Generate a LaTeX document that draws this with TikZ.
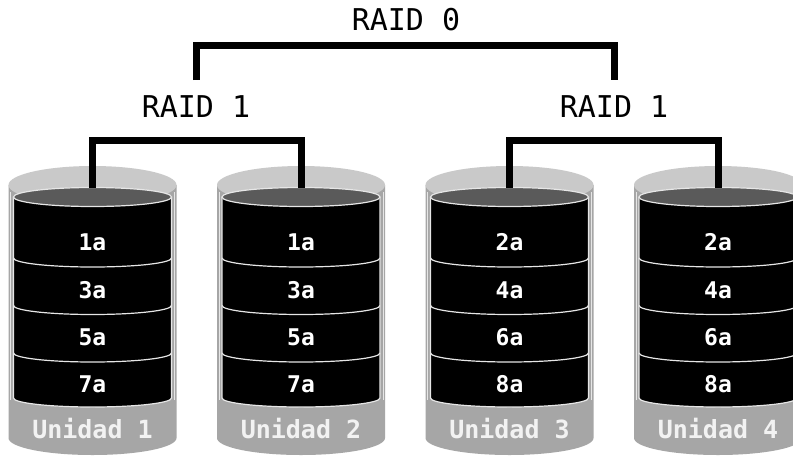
\documentclass[tikz,border=0pt]{standalone}
\usepackage{fontspec}
\newfontfamily\monofont{DejaVu Sans Mono}
\definecolor{outergray}{HTML}{A6A6A6}
\definecolor{topgray}{HTML}{C9C9C9}
\definecolor{innergray}{HTML}{5A5A5A}
\definecolor{edgegray}{HTML}{E6E6E6}
\definecolor{unittext}{HTML}{F2F2F2}
\tikzset{
  raidlabel/.style={inner sep=0pt, font=\monofont\fontsize{30}{30}\selectfont, text=black},
  seglabel/.style={inner sep=0pt, font=\monofont\bfseries\fontsize{23}{23}\selectfont, text=white},
  unitlabel/.style={inner sep=0pt, font=\monofont\bfseries\fontsize{25}{25}\selectfont, text=unittext},
  bracket/.style={line width=7pt, line join=miter, black},
  divline/.style={draw=edgegray, line width=1.2pt},
}
\newcommand{\diskunit}[7]{%
  % #1 center x, #2 name, #3-#6 segment labels, #7 unit label
  \fill[outergray] (#1-84,185) -- (#1-84,438) arc[start angle=180, end angle=0, x radius=84, y radius=17] -- (#1+84,185) -- cycle;
  \fill[topgray] (#1,185) ellipse[x radius=84, y radius=19];
  \draw[edgegray, line width=1pt] (#1-82,192) -- (#1-82,400);
  \draw[edgegray, line width=1pt] (#1+82,192) -- (#1+82,400);
  \fill[black] (#1-79,197) -- (#1-79,398) arc[start angle=180, end angle=0, x radius=79, y radius=9] -- (#1+79,197) -- cycle;
  \draw[divline] (#1-79,197) -- (#1-79,398) arc[start angle=180, end angle=0, x radius=79, y radius=9] -- (#1+79,197);
  \filldraw[fill=innergray, divline] (#1,197) ellipse[x radius=79, y radius=9.5];
  \draw[divline] (#1-79,258) arc[start angle=180, end angle=0, x radius=79, y radius=9];
  \draw[divline] (#1-79,305.5) arc[start angle=180, end angle=0, x radius=79, y radius=9];
  \draw[divline] (#1-79,353) arc[start angle=180, end angle=0, x radius=79, y radius=9];
  \node[seglabel] (#2s1) at (#1,242) {#3};
  \node[seglabel] (#2s2) at (#1,290) {#4};
  \node[seglabel] (#2s3) at (#1,337) {#5};
  \node[seglabel] (#2s4) at (#1,384) {#6};
  \node[unitlabel] (#2u) at (#1,429) {#7};
  \coordinate (#2top) at (#1,187.5);
}
\begin{document}
\begin{tikzpicture}[x=1pt, y=-1pt]
\useasboundingbox (0,0) rectangle (793,456);
\clip (0,0) rectangle (793,456);
\fill[white] (0,0) rectangle (793,456);
\diskunit{92.5}{da}{1a}{3a}{5a}{7a}{Unidad 1}
\diskunit{301}{db}{1a}{3a}{5a}{7a}{Unidad 2}
\diskunit{509.5}{dc}{2a}{4a}{6a}{8a}{Unidad 3}
\diskunit{718}{dd}{2a}{4a}{6a}{8a}{Unidad 4}
\node[raidlabel] (raid0) at (406,20) {RAID 0};
\node[raidlabel] (raid1l) at (196,107) {RAID 1};
\node[raidlabel] (raid1r) at (614,107) {RAID 1};
\coordinate (b0l) at (196,80);
\coordinate (b0r) at (614,80);
\coordinate (b0bar) at (405,45);
\coordinate (b1lbar) at (196,140);
\coordinate (b1rbar) at (614,140);
\draw[bracket] (b0l) |- (b0bar) -| (b0r);
\draw[bracket] (datop) |- (b1lbar) -| (dbtop);
\draw[bracket] (dctop) |- (b1rbar) -| (ddtop);
\end{tikzpicture}
\end{document}
